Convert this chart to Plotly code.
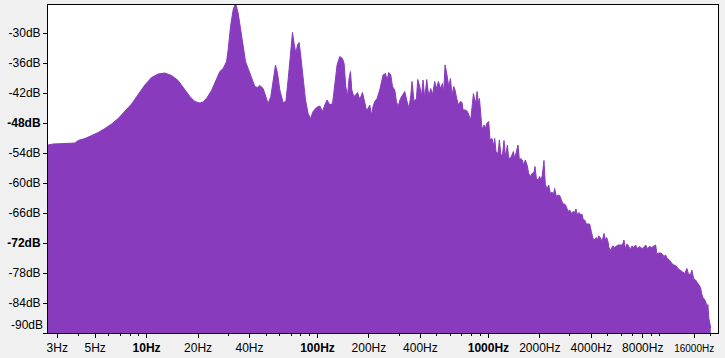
import plotly.graph_objects as go

# Spectrum (frequency in Hz, level in dB)
freq_hz = [
    2.65, 2.84, 3.33, 3.81, 3.98, 4.36, 4.77, 5.21, 5.70, 6.24, 6.82, 7.47, 8.17, 8.93, 9.77,
    10.70, 11.69, 12.79, 14.0, 15.30, 16.75, 17.91,
    19.16, 20.50, 21.43, 22.43, 23.99, 25.67, 26.84, 28.05, 29.37, 30.01, 30.99, 32.09, 33.15,
    34.33, 35.46, 36.72, 37.93, 39.28, 41.12, 42.99, 44.58, 45.99, 48.08, 49.65, 51.41, 53.32,
    55.0, 56.8, 58.4, 60.2, 62.9, 65.3, 67.3, 69.5, 71.4, 73.0, 74.7, 76.4, 78.1, 79.9, 82.4,
    85.1, 88.1, 91.0, 94.2, 98.7, 103.2,
    107.0, 110.3, 113.8, 118.0, 122.4, 124.5, 127.4, 130.2, 135.0, 140.0, 143.1, 146.4, 149.8,
    153.0, 156.0, 158.7, 163.1, 167.5, 171.4, 176.8, 183.3, 189.1, 193.4, 197.7, 202.2, 206.9,
    211.4, 216.3, 223.1, 231.4, 236.7, 241.9, 249.8, 255.3, 261.2, 268.4, 274.6, 283.2, 289.7,
    296.0, 305.8, 314.1, 324.0, 334.2, 343.3, 351.3, 357.5, 367.2, 379.3, 386.0, 396.6, 405.8,
    414.6, 424.2, 435.8, 447.7, 459.9, 470.5, 485.3, 496.5, 510.1, 524.1, 538.3, 547.9, 557.6,
    570.5, 586.1, 599.7, 612.7, 626.9, 638.0, 652.7, 667.8,
    686.1, 701.0, 710.6, 733.9, 754.0, 770.4, 788.3, 806.5, 817.5, 831.9, 846.6, 858.1, 874.4,
    886.3, 901.6, 917.6, 942.6, 960.5, 977.4, 1004, 1022, 1050, 1074, 1089, 1108, 1138, 1160,
    1180, 1207, 1234, 1257, 1291, 1314, 1350, 1374, 1400, 1425, 1458, 1490, 1518, 1545, 1580,
    1608, 1645, 1690, 1720, 1760, 1799, 1848, 1873, 1909, 1950, 1995, 2030, 2069, 2114, 2154,
    2213, 2252, 2304, 2354, 2399, 2442, 2498, 2553, 2612, 2673, 2731, 2794, 2859, 2921, 2989,
    3058, 3124, 3196, 3253, 3315, 3387, 3466, 3527, 3594, 3658, 3742, 3912,
    4002, 4090, 4184, 4281, 4339, 4416, 4519, 4617, 4680, 4743, 4834, 4919, 5006, 5074, 5191,
    5333, 5478, 5605, 5727, 5997, 6127, 6209, 6327, 6464, 6613, 6767, 6915, 7104, 7268, 7436,
    7671, 7912, 8128, 8318, 8510, 8778, 9052, 9299, 9515, 9683, 9906, 10176, 10411, 10639,
    10884, 11137, 11379, 11643, 11912, 12172, 12572, 12846, 13143, 13630, 14060, 14503, 14780,
    15183, 15512, 15870, 16304, 16680, 17045, 17440, 17680, 17990, 18480, 18830, 18980, 19240,
    19500, 19870, 20000,
]
level_db = [
    -52.4, -52.2, -52.1, -52.0, -51.5, -51.1, -50.5, -49.9, -49.1, -48.2, -47.1, -45.7, -44.2, -42.3, -40.4,
    -38.9, -38.2, -38.0, -38.5, -39.5, -41.4, -42.7,
    -43.7, -44.0, -43.8, -43.1, -41.5, -39.4, -37.7, -37.1, -35.7, -33.4, -28.7, -25.4, -24.0,
    -26.0, -29.4, -32.7, -35.7, -37.1, -39.1, -40.7, -40.9, -40.5, -41.1, -42.7, -44.1, -42.7,
    -39.1, -36.4, -38.1, -41.4, -43.9, -43.7, -39.4, -34.1, -29.9, -32.1, -34.1, -32.4, -31.9, -34.7, -39.4,
    -43.4, -46.1, -47.1, -45.7, -44.9, -44.6,
    -45.7, -44.4, -43.4, -44.4, -44.1, -42.1, -38.7, -36.4, -34.7, -35.1, -36.1, -40.7, -42.7,
    -39.1, -37.7, -41.4, -42.7, -42.4, -41.9, -43.3, -41.9, -43.7, -45.4, -45.1, -44.4, -46.4,
    -44.7, -43.7, -43.1, -41.4, -40.1, -38.4, -38.1, -39.4, -37.9, -38.4, -40.7, -41.4, -43.7,
    -44.7, -43.1, -42.4, -41.7, -43.7, -45.1, -42.5, -39.7, -43.7, -43.1, -39.3, -40.7, -42.7,
    -39.4, -43.1, -39.3, -42.7, -41.1, -42.4, -39.7, -41.1, -39.7, -41.1, -40.1, -41.8, -36.4,
    -38.1, -40.7, -39.1, -42.5, -40.7, -41.4, -43.1, -44.4,
    -43.7, -43.9, -45.4, -45.4, -45.7, -46.4, -47.4, -44.1, -42.1, -43.4, -43.7, -41.7, -44.1,
    -43.1, -46.4, -49.3, -48.4, -49.1, -48.1, -47.7, -51.4, -51.1, -52.6, -51.1, -53.7, -54.1, -51.4,
    -54.1, -54.7, -51.5, -54.7, -52.4, -55.1, -54.9, -54.4, -53.7, -55.1, -53.4, -52.4, -55.4, -55.1, -55.4,
    -56.4, -55.4, -56.6, -58.1, -58.7, -58.1, -57.9, -56.7, -59.1, -59.4, -58.7, -59.5, -58.4, -55.5, -60.4,
    -61.1, -60.4, -62.1, -61.8, -62.4, -61.1, -62.7, -62.4, -62.5, -63.4, -64.2, -64.2, -64.7, -65.7, -65.4,
    -66.1, -65.7, -65.9, -65.2, -66.4, -65.9, -66.4, -66.2, -67.4, -67.4, -68.2, -68.2,
    -69.7, -71.1, -71.3, -70.9, -71.5, -70.6, -70.9, -71.7, -71.0, -70.1, -71.4, -70.9, -71.7, -72.9, -73.5,
    -72.6, -72.9, -72.6, -72.4, -72.4, -72.1, -71.4, -73.1, -72.2, -72.6, -73.3, -72.6, -72.9, -72.4, -73.1,
    -72.7, -73.1, -72.9, -72.4, -73.1, -72.7, -72.9, -72.6, -72.4, -74.2, -74.0, -74.0, -74.2, -74.7,
    -74.4, -75.1, -75.3, -75.7, -76.2, -76.4, -76.6, -77.1, -77.4, -77.7, -78.1, -77.1, -78.1,
    -78.4, -77.4, -79.1, -79.4, -79.9, -80.4, -80.9, -82.1, -82.9, -83.4, -84.1, -85.7, -84.3,
    -87.1, -88.1, -89.0,
]

x_tick_vals = [3, 5, 10, 20, 40, 100, 200, 400, 1000, 2000, 4000, 8000, 16000]
x_tick_text = ["3Hz", "5Hz", "<b>10Hz</b>", "20Hz", "40Hz", "<b>100Hz</b>", "200Hz", "400Hz",
               "<b>1000Hz</b>", "2000Hz", "4000Hz", "8000Hz",
               "<span style='font-size:10px'>16000Hz</span>"]
x_minor_vals = [4, 6, 7, 8, 9, 30, 50, 60, 70, 80, 90, 300, 500, 600, 700, 800, 900,
                3000, 5000, 6000, 7000, 9000, 10000, 20000]
y_tick_vals = [-30, -36, -42, -48, -54, -60, -66, -72, -78, -84, -90]
y_tick_text = ["-30dB", "-36dB", "-42dB", "<b>-48dB</b>", "-54dB", "-60dB", "-66dB",
               "<b>-72dB</b>", "-78dB", "-84dB", ""]
y_floor = -120
fill_color = "#893BBE"

fig = go.Figure()
fig.add_trace(go.Scatter(x=[freq_hz[0], freq_hz[-1]], y=[y_floor, y_floor], mode="lines",
                         line=dict(width=0), hoverinfo="skip", showlegend=False))
fig.add_trace(go.Scatter(x=freq_hz, y=level_db, mode="lines", fill="tonexty",
                         fillcolor=fill_color, line=dict(color=fill_color, width=1),
                         showlegend=False))

font = dict(family="Liberation Sans, Arial, sans-serif", size=12, color="#000000")
fig.update_layout(
    width=725, height=358,
    margin=dict(l=48, r=7, t=5, b=25, autoexpand=False),
    paper_bgcolor="#f0f0f0", plot_bgcolor="#ffffff",
    font=font,
    xaxis=dict(type="log", range=[0.4232, 4.3434], tickmode="array", tickvals=x_tick_vals,
               ticktext=x_tick_text, ticks="outside", ticklen=4, tickcolor="#000000",
               showgrid=False, zeroline=False, showline=True, linecolor="#000000", linewidth=1,
               mirror=True, automargin=False, ticklabelstandoff=0,
               minor=dict(tickmode="array", tickvals=x_minor_vals, ticks="outside", ticklen=2,
                          tickcolor="#000000", showgrid=False)),
    yaxis=dict(range=[-90, -24.4], tickmode="array", tickvals=y_tick_vals, ticktext=y_tick_text,
               ticks="outside", ticklen=4, tickcolor="#000000", showgrid=False, zeroline=False,
               showline=True, linecolor="#000000", linewidth=1, mirror=True, automargin=False,
               ticklabelstandoff=0),
    annotations=[dict(text="-90dB", xref="paper", x=0, xanchor="right", xshift=-3,
                      yref="y", y=-88.4, yanchor="middle", showarrow=False, font=font)],
)

fig.write_html("out.html", config={"displayModeBar": False},
               post_script="document.body.style.margin='0';")
